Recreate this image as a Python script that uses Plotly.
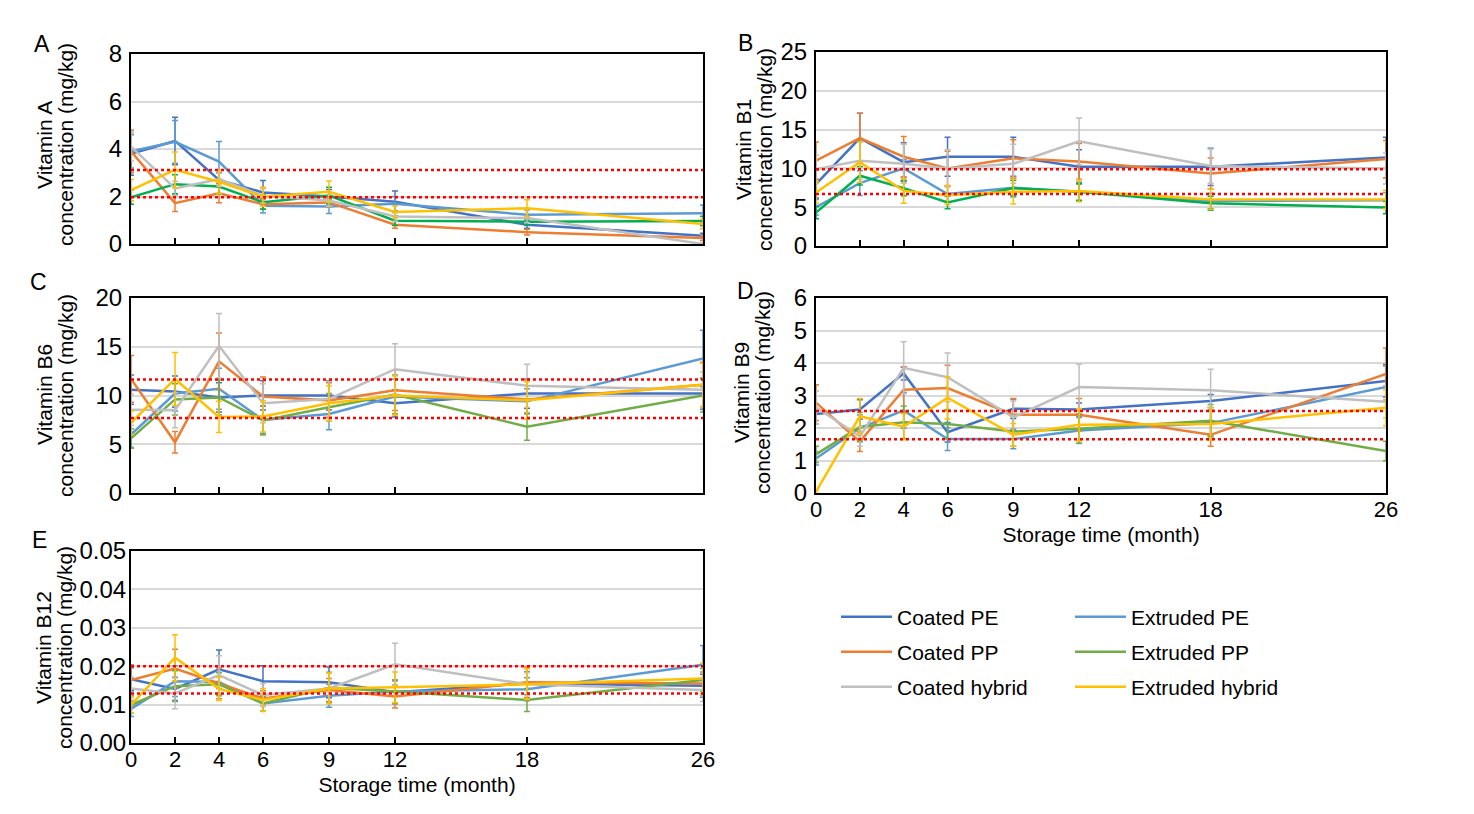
import plotly.graph_objects as go

months = [0, 2, 4, 6, 9, 12, 18, 26]
series_names = ["Coated PE", "Extruded PE", "Coated PP", "Extruded PP", "Coated hybrid", "Extruded hybrid"]
colors = ["#4472C4", "#5B9BD5", "#ED7D31", "#70AD47", "#BFBFBF", "#FFC000"]
green_ab = "#00B050"  # extruded PP looks brighter in panels A and B

# panel A - vitamin A (mg/kg), order as series_names
a_mean = [
    [3.8, 4.34, 2.7, 2.17, 2.0, 1.78, 0.81, 0.35],
    [3.9, 4.3, 3.47, 1.61, 1.58, 1.7, 1.23, 1.29],
    [3.9, 1.72, 2.14, 1.67, 1.75, 0.81, 0.5, 0.25],
    [1.97, 2.52, 2.42, 1.76, 2.04, 0.98, 0.94, 0.97],
    [4.1, 2.34, 2.73, 2.03, 1.83, 1.16, 1.09, 0.0],
    [2.27, 3.12, 2.62, 1.99, 2.2, 1.35, 1.51, 0.84],
]
a_err = [
    [0.9, 1.0, 0.3, 0.5, 0.3, 0.45, 0.15, 0.1],
    [0.7, 0.9, 0.85, 0.3, 0.3, 0.3, 0.2, 0.35],
    [0.9, 0.35, 0.4, 0.2, 0.2, 0.15, 0.12, 0.1],
    [0.3, 0.4, 0.3, 0.3, 0.35, 0.2, 0.15, 0.2],
    [0.6, 0.3, 0.3, 0.3, 0.25, 0.2, 0.2, 0.05],
    [0.45, 0.75, 0.5, 0.4, 0.45, 0.25, 0.35, 0.2],
]
a_limits = [3.12, 1.97]

# panel B - vitamin B1
b_mean = [
    [7.97, 13.9, 10.8, 11.5, 11.5, 10.2, 10.2, 11.4],
    [5.0, 8.1, 10.0, 6.7, 7.5, 7.0, 5.8, 5.9],
    [11.0, 13.9, 11.5, 10.0, 11.3, 10.9, 9.35, 11.2],
    [4.3, 9.06, 7.46, 5.6, 7.46, 7.0, 5.5, 4.96],
    [9.9, 11.0, 10.6, 10.0, 10.6, 13.5, 10.3, 10.0],
    [6.9, 10.8, 7.1, 6.55, 7.0, 7.1, 6.0, 6.0],
]
b_err = [
    [1.8, 3.2, 2.5, 2.5, 2.5, 2.2, 2.4, 2.6],
    [1.0, 1.6, 1.1, 1.0, 1.2, 1.2, 1.0, 1.0],
    [2.4, 3.2, 2.6, 2.2, 2.4, 2.3, 2.0, 2.4],
    [0.8, 1.2, 1.0, 0.8, 1.0, 1.1, 0.9, 0.8],
    [1.8, 2.4, 2.5, 2.4, 2.5, 3.0, 2.2, 2.0],
    [1.4, 2.6, 1.6, 1.2, 1.6, 1.4, 1.3, 1.2],
]
b_limits = [9.9, 6.7]

# panel C - vitamin B6
c_mean = [
    [10.6, 10.4, 9.8, 10.0, 10.0, 9.2, 10.2, 10.2],
    [6.0, 10.2, 10.7, 7.5, 8.1, 9.9, 9.4, 13.8],
    [11.7, 5.2, 13.5, 9.9, 9.5, 10.55, 9.6, 11.1],
    [5.6, 9.6, 9.8, 7.45, 8.8, 10.1, 6.8, 10.0],
    [8.55, 8.5, 15.1, 9.2, 9.65, 12.7, 11.0, 10.6],
    [7.2, 11.7, 7.8, 7.85, 9.2, 10.0, 9.5, 11.1],
]
c_err = [
    [1.5, 1.6, 1.5, 1.5, 1.5, 1.4, 1.5, 1.6],
    [1.3, 1.8, 2.1, 1.4, 1.6, 1.8, 1.3, 2.9],
    [2.4, 1.1, 2.9, 2.0, 1.8, 2.1, 2.0, 2.3],
    [1.0, 1.6, 1.8, 1.5, 1.4, 2.0, 1.4, 1.7],
    [1.6, 1.8, 3.3, 2.0, 1.8, 2.6, 2.2, 1.8],
    [1.2, 2.7, 1.6, 1.6, 1.8, 2.0, 1.9, 2.2],
]
c_limits = [11.65, 7.69]

# panel D - vitamin B9
d_mean = [
    [2.43, 2.57, 3.68, 1.87, 2.59, 2.57, 2.83, 3.45],
    [1.06, 2.0, 2.54, 1.66, 1.66, 1.92, 2.15, 3.26],
    [2.78, 1.58, 3.18, 3.23, 2.41, 2.41, 1.79, 3.66],
    [1.19, 2.03, 2.18, 2.12, 1.89, 1.98, 2.22, 1.29],
    [2.64, 1.74, 3.85, 3.56, 2.33, 3.26, 3.16, 2.81],
    [0.04, 2.36, 2.04, 2.93, 1.79, 2.1, 2.12, 2.62],
]
d_err = [
    [0.3, 0.3, 0.2, 0.3, 0.3, 0.2, 0.2, 0.5],
    [0.2, 0.4, 0.55, 0.35, 0.3, 0.4, 0.4, 0.65],
    [0.55, 0.3, 0.7, 0.7, 0.5, 0.5, 0.35, 0.8],
    [0.25, 0.45, 0.5, 0.45, 0.45, 0.45, 0.5, 0.3],
    [0.5, 0.3, 0.8, 0.75, 0.5, 0.7, 0.65, 0.5],
    [0.05, 0.55, 0.4, 0.65, 0.35, 0.5, 0.5, 0.55],
]
d_limits = [2.52, 1.65]

# panel E - vitamin B12
e_mean = [
    [0.0166, 0.0141, 0.0192, 0.0161, 0.0158, 0.0132, 0.0155, 0.0149],
    [0.0089, 0.0161, 0.0159, 0.0103, 0.0123, 0.0134, 0.014, 0.0204],
    [0.0164, 0.0194, 0.0155, 0.0116, 0.0138, 0.0121, 0.0158, 0.0155],
    [0.0099, 0.0148, 0.0153, 0.0103, 0.0144, 0.0134, 0.0112, 0.0164],
    [0.0142, 0.0129, 0.0177, 0.0125, 0.0142, 0.0205, 0.0153, 0.0138],
    [0.0099, 0.0222, 0.0141, 0.0112, 0.0142, 0.0145, 0.0153, 0.0168],
]
e_err = [
    [0.003, 0.003, 0.005, 0.004, 0.004, 0.003, 0.003, 0.003],
    [0.002, 0.004, 0.003, 0.002, 0.003, 0.003, 0.003, 0.005],
    [0.004, 0.005, 0.004, 0.002, 0.003, 0.003, 0.004, 0.003],
    [0.002, 0.004, 0.003, 0.002, 0.004, 0.003, 0.003, 0.003],
    [0.003, 0.004, 0.005, 0.003, 0.004, 0.0055, 0.003, 0.003],
    [0.002, 0.006, 0.003, 0.003, 0.004, 0.004, 0.004, 0.004],
]
e_limits = [0.0200, 0.0129]

W, H = 1474, 814
OFF = 8  # page body margin shifts the figure by 8px
FONT = "Liberation Sans, Arial, sans-serif"


def px(x):
    return (x - OFF) / W


def py(y):
    return 1 - (y - OFF) / H


# pixel boxes (left, top, right, bottom)
panels = [
    dict(letter="A", vit="Vitamin A", mean=a_mean, err=a_err, limits=a_limits,
         yrange=[0, 8], dtick=2, fmt="", box=(131, 54, 703, 244), xlab=False,
         letter_xy=(42, 44), tx=45, tcy=145, ystand=2),
    dict(letter="B", vit="Vitamin B1", mean=b_mean, err=b_err, limits=b_limits,
         yrange=[0, 25], dtick=5, fmt="", box=(816, 52, 1386, 246), xlab=False,
         letter_xy=(745, 43), tx=743, tcy=150, ystand=2),
    dict(letter="C", vit="Vitamin B6", mean=c_mean, err=c_err, limits=c_limits,
         yrange=[0, 20], dtick=5, fmt="", box=(131, 298, 703, 493), xlab=False,
         letter_xy=(38, 282), tx=44, tcy=395, ystand=2),
    dict(letter="D", vit="Vitamin B9", mean=d_mean, err=d_err, limits=d_limits,
         yrange=[0, 6], dtick=1, fmt="", box=(816, 298, 1386, 493), xlab=True,
         letter_xy=(745, 291), tx=741, tcy=393, ystand=2),
    dict(letter="E", vit="Vitamin B12", mean=e_mean, err=e_err, limits=e_limits,
         yrange=[0, 0.05], dtick=0.01, fmt=".2f", box=(131, 551, 703, 743), xlab=True,
         letter_xy=(40, 540), tx=43, tcy=648, ystand=-2),
]

legend_ids = ["legend", "legend2", "legend3", "legend4", "legend5", "legend6"]
legend_pos = [(836, 617), (1070, 617), (836, 652), (1070, 652), (836, 687), (1070, 687)]

fig = go.Figure()
layout = dict(
    width=W, height=H,
    margin=dict(l=0, r=0, t=0, b=0, autoexpand=False),
    plot_bgcolor="white", paper_bgcolor="white",
    font=dict(family=FONT, size=21, color="black"),
    shapes=[], annotations=[],
)

for i, p in enumerate(panels):
    n = i + 1
    xa = "x" if n == 1 else f"x{n}"
    ya = "y" if n == 1 else f"y{n}"
    l, t, r, b = p["box"]

    for s, name in enumerate(series_names):
        col = colors[s]
        if s == 3 and p["letter"] in ("A", "B"):
            col = green_ab
        fig.add_trace(go.Scatter(
            x=months, y=p["mean"][s], name=name, mode="lines",
            line=dict(color=col, width=2.5),
            error_y=dict(type="data", array=p["err"][s], color=col, thickness=1.5, width=3),
            xaxis=xa, yaxis=ya,
            showlegend=(n == 5), legend=legend_ids[s],
            hoverinfo="x+y+name",
        ))

    layout["xaxis" if n == 1 else f"xaxis{n}"] = dict(
        domain=[px(l), px(r)], anchor=ya, range=[0, 26],
        tickvals=months, ticks="inside", ticklen=6, tickwidth=2, tickcolor="black",
        showticklabels=p["xlab"], tickfont=dict(size=22), ticklabelstandoff=-4,
        showline=True, linecolor="black", linewidth=2, mirror=True,
        showgrid=False, zeroline=False,
        title=dict(text="Storage time (month)" if p["xlab"] else "", font=dict(size=21), standoff=6),
    )
    layout["yaxis" if n == 1 else f"yaxis{n}"] = dict(
        domain=[py(b), py(t)], anchor=xa, range=p["yrange"], dtick=p["dtick"],
        tickformat=p["fmt"], tickfont=dict(size=24), ticks="", ticklabelstandoff=p["ystand"],
        showline=True, linecolor="black", linewidth=2, mirror=True,
        showgrid=True, gridcolor="#D9D9D9", gridwidth=1.5, zeroline=False,
    )

    for v in p["limits"]:
        layout["shapes"].append(dict(
            type="line", xref=f"{xa} domain", yref=ya, x0=0, x1=1, y0=v, y1=v,
            line=dict(color="#FF0000", width=2.5, dash="dot"),
        ))

    lx, ly = p["letter_xy"]
    layout["annotations"].append(dict(
        text=p["letter"], xref="paper", yref="paper", x=px(lx), y=py(ly),
        showarrow=False, font=dict(size=23), xanchor="center", yanchor="middle",
    ))
    # two-line rotated y title, tight line spacing as in the reference
    for k, line_txt in enumerate([p["vit"], "concentration (mg/kg)"]):
        layout["annotations"].append(dict(
            text=line_txt, xref="paper", yref="paper", x=px(p["tx"] + 21 * k), y=py(p["tcy"]),
            showarrow=False, textangle=-90, font=dict(size=21),
            xanchor="center", yanchor="middle",
        ))

for s, lid in enumerate(legend_ids):
    lx, ly = legend_pos[s]
    layout[lid] = dict(
        x=px(lx), y=py(ly), xanchor="left", yanchor="middle",
        bgcolor="rgba(0,0,0,0)", font=dict(size=21), itemwidth=51,
    )

fig.update_layout(**layout)
fig.write_html("out.html")
